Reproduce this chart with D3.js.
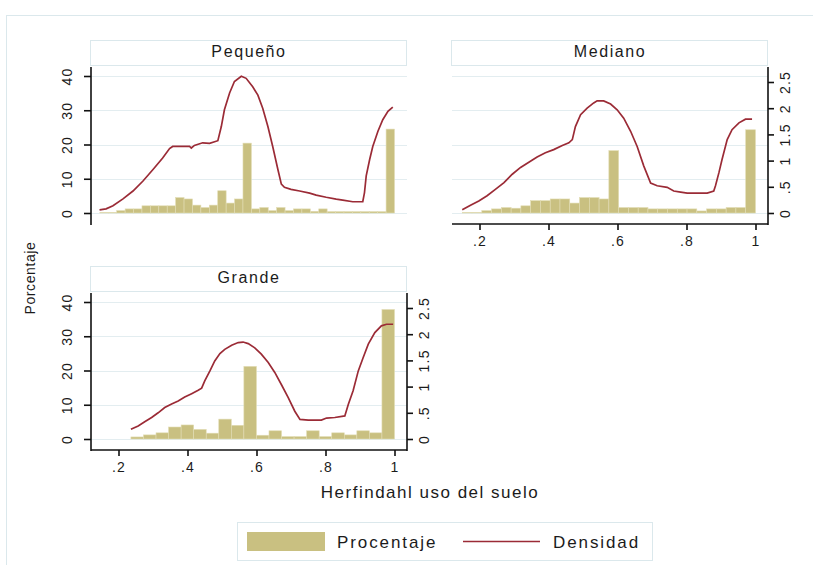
<!DOCTYPE html>
<html>
<head>
<meta charset="utf-8">
<script src="https://cdn.jsdelivr.net/npm/d3@7"></script>
<style>
  body { margin: 0; background: #fff; }
  svg { font-family: "Liberation Sans", Arial, sans-serif; }
</style>
</head>
<body>
<div id="canvas"></div>
<script>
// panel names, in drawing order
const panels = ["Pequeño", "Mediano", "Grande"];

// histogram bins (Herfindahl value of first bin edge, bin width)
const binStart = [0.146, 0.150, 0.236];
const binWidth = [0.0244, 0.02833, 0.03638];

// percentage per bin
const pctPequeno = [0.2, 0.2, 0.7, 1.2, 1.2, 2.1, 2.1, 2.1, 2.1, 4.5, 4.1, 2.3, 1.6, 2.3, 6.5, 2.9, 4.1, 20.4,
  1.2, 1.6, 0.7, 1.6, 0.7, 1.2, 1.2, 0.5, 1.2, 0.4, 0.4, 0.4, 0.4, 0.4, 0.4, 0.4, 24.5];
const pctMediano = [0.2, 0.2, 0.7, 1.2, 1.6, 1.4, 2.1, 3.6, 3.6, 4.1, 4.1, 2.9, 4.5, 4.5, 4.1, 18.2,
  1.6, 1.6, 1.6, 1.2, 1.2, 1.2, 1.2, 1.2, 0.6, 1.2, 1.2, 1.6, 1.6, 24.3];
const pctGrande = [0.6, 1.2, 1.8, 3.5, 4.1, 2.8, 1.7, 5.8, 4.0, 21.2, 1.1, 2.4, 0.7, 0.7, 2.4, 0.7, 1.8, 1.2, 2.4, 1.8, 37.8];

// kernel density [herfindahl, density]
const densPequeno = [[0.145,0.06],[0.164,0.08],[0.184,0.14],[0.213,0.27],[0.242,0.42],[0.271,0.61],[0.300,0.83],
  [0.328,1.05],[0.348,1.23],[0.357,1.27],[0.385,1.27],[0.406,1.27],[0.411,1.24],[0.420,1.29],[0.444,1.34],
  [0.464,1.33],[0.488,1.38],[0.498,1.65],[0.507,1.97],[0.522,2.29],[0.536,2.51],[0.556,2.61],[0.570,2.57],
  [0.589,2.41],[0.604,2.25],[0.618,2.0],[0.633,1.65],[0.647,1.27],[0.662,0.83],[0.672,0.55],[0.681,0.49],
  [0.700,0.45],[0.725,0.42],[0.754,0.38],[0.773,0.34],[0.802,0.30],[0.831,0.265],[0.850,0.246],[0.879,0.215],
  [0.908,0.215],[0.913,0.39],[0.918,0.71],[0.928,1.02],[0.937,1.27],[0.952,1.56],[0.966,1.78],[0.981,1.94],[0.995,2.02]];
const densMediano = [[0.150,0.06],[0.174,0.15],[0.198,0.23],[0.222,0.33],[0.246,0.45],[0.271,0.58],[0.295,0.74],
  [0.319,0.87],[0.343,0.97],[0.367,1.07],[0.391,1.15],[0.415,1.21],[0.440,1.29],[0.459,1.34],[0.469,1.40],
  [0.478,1.65],[0.493,1.875],[0.512,2.0],[0.531,2.10],[0.541,2.14],[0.560,2.14],[0.580,2.08],[0.599,1.97],
  [0.618,1.81],[0.638,1.56],[0.657,1.27],[0.676,0.90],[0.696,0.57],[0.715,0.52],[0.744,0.49],[0.763,0.42],
  [0.783,0.40],[0.802,0.38],[0.860,0.38],[0.879,0.42],[0.884,0.52],[0.894,0.77],[0.903,1.02],[0.918,1.40],
  [0.932,1.59],[0.952,1.72],[0.971,1.79],[0.990,1.79]];
const densGrande = [[0.236,0.185],[0.257,0.25],[0.276,0.33],[0.296,0.41],[0.315,0.50],[0.334,0.60],[0.354,0.67],
  [0.373,0.725],[0.392,0.80],[0.412,0.865],[0.431,0.93],[0.441,0.97],[0.450,1.11],[0.465,1.30],[0.479,1.49],
  [0.494,1.63],[0.508,1.71],[0.528,1.79],[0.547,1.84],[0.561,1.85],[0.576,1.82],[0.595,1.74],[0.614,1.62],
  [0.634,1.46],[0.653,1.27],[0.672,1.04],[0.692,0.79],[0.711,0.53],[0.726,0.375],[0.750,0.36],[0.788,0.36],
  [0.803,0.40],[0.827,0.41],[0.856,0.44],[0.866,0.66],[0.880,0.92],[0.895,1.30],[0.909,1.55],[0.924,1.81],
  [0.943,2.03],[0.962,2.16],[0.977,2.19],[0.996,2.19]];

// axis ticks
const xTicks = [0.2, 0.4, 0.6, 0.8, 1];
const pctTicks = [0, 10, 20, 30, 40];
const densTicks = [0, 0.5, 1, 1.5, 2, 2.5];

const pcts = [pctPequeno, pctMediano, pctGrande];
const dens = [densPequeno, densMediano, densGrande];

const barColor = "#c9c081";
const lineColor = "#9b2b36";
const gridColor = "#e3edf0";
const boxColor = "#dbe8ec";

const width = 813, height = 565;
const pw = 316, ph = 157;
// left/top of each plot region
const layout = [
  { left: 91, top: 67, leftAxis: true, rightAxis: false, xAxis: false },
  { left: 452, top: 67, leftAxis: false, rightAxis: true, xAxis: true },
  { left: 91, top: 293, leftAxis: true, rightAxis: true, xAxis: true },
];

const svg = d3.select("#canvas").append("svg")
  .attr("width", width)
  .attr("height", height);

// outer frame
svg.append("rect")
  .attr("x", 6.5).attr("y", 15.5)
  .attr("width", 900).attr("height", 700)
  .attr("fill", "none").attr("stroke", boxColor);

const fmt = (d) => (d > 0 && d < 1 ? String(d).replace("0.", ".") : String(d));

panels.forEach((name, i) => {
  const p = layout[i];
  const L = p.left, T = p.top, B = T + ph;

  const x = d3.scaleLinear().domain([0.2, 1]).range([L + 27.5, L + 303.5]);
  const yPct = d3.scaleLinear().domain([0, 40]).range([B - 11, T + 9]);
  const yDen = d3.scaleLinear().domain([0, 2.5]).range([B - 11, T + 15]);

  const g = svg.append("g");

  // strip title
  g.append("rect")
    .attr("x", L - 0.5).attr("y", T - 26.5)
    .attr("width", pw).attr("height", 25)
    .attr("fill", "#fff").attr("stroke", boxColor);
  g.append("text")
    .attr("x", L + pw / 2).attr("y", T - 10)
    .attr("text-anchor", "middle")
    .style("font-size", "16px").style("letter-spacing", "1.6px")
    .attr("fill", "#1b1b1b")
    .text(name);

  // gridlines
  g.selectAll(".grid").data(pctTicks).enter().append("line")
    .attr("x1", L).attr("x2", L + pw)
    .attr("y1", (d) => Math.round(yPct(d)) + 0.5)
    .attr("y2", (d) => Math.round(yPct(d)) + 0.5)
    .attr("stroke", gridColor).attr("stroke-width", 1.2);

  // bars
  const w = binWidth[i];
  g.selectAll(".bar").data(pcts[i]).enter().append("rect")
    .attr("x", (d, j) => x(binStart[i] + j * w))
    .attr("width", (d, j) => x(binStart[i] + (j + 1) * w) - x(binStart[i] + j * w))
    .attr("y", (d) => yPct(d))
    .attr("height", (d) => yPct(0) - yPct(d))
    .attr("fill", barColor)
    .attr("stroke", "#e2dcb4").attr("stroke-width", 0.6);

  // density
  const line = d3.line().x((d) => x(d[0])).y((d) => yDen(d[1]));
  g.append("path")
    .datum(dens[i])
    .attr("d", line)
    .attr("fill", "none")
    .attr("stroke", lineColor)
    .attr("stroke-width", 1.7);

  if (p.leftAxis) {
    const ax = g.append("g")
      .attr("transform", `translate(${L},0)`)
      .call(d3.axisLeft(yPct).tickValues(pctTicks).tickSize(7).tickFormat(fmt));
    ax.select(".domain").remove();
    ax.append("line").attr("y1", T).attr("y2", B + 1).attr("stroke", "#111").attr("stroke-width", 1.6);
    ax.selectAll("line").attr("stroke", "#111").attr("stroke-width", 1.6);
    ax.selectAll("text")
      .attr("x", 0).attr("dy", 0)
      .attr("transform", "translate(-19,0) rotate(-90)")
      .attr("text-anchor", "middle")
      .attr("fill", "#1b1b1b")
      .style("font-size", "14px").style("letter-spacing", "1.2px")
      .style("font-family", "'Liberation Sans', Arial, sans-serif");
  }

  if (p.rightAxis) {
    const ax = g.append("g")
      .attr("transform", `translate(${L + pw},0)`)
      .call(d3.axisRight(yDen).tickValues(densTicks).tickSize(6).tickFormat(fmt));
    ax.select(".domain").remove();
    ax.append("line").attr("y1", T).attr("y2", B + 1).attr("stroke", "#111").attr("stroke-width", 1.6);
    ax.selectAll("line").attr("stroke", "#111").attr("stroke-width", 1.6);
    ax.selectAll("text")
      .attr("x", 0).attr("dy", 0)
      .attr("transform", "translate(22,0) rotate(-90)")
      .attr("text-anchor", "middle")
      .attr("fill", "#1b1b1b")
      .style("font-size", "14px").style("letter-spacing", "1.2px")
      .style("font-family", "'Liberation Sans', Arial, sans-serif");
  }

  if (p.xAxis) {
    const ax = g.append("g")
      .attr("transform", `translate(0,${B})`)
      .call(d3.axisBottom(x).tickValues(xTicks).tickSize(6).tickFormat(fmt));
    ax.select(".domain").remove();
    ax.append("line").attr("x1", L).attr("x2", L + pw).attr("stroke", "#111").attr("stroke-width", 1.6);
    ax.selectAll("line").attr("stroke", "#111").attr("stroke-width", 1.6);
    ax.selectAll("text")
      .attr("y", 12).attr("dy", "0.71em")
      .attr("fill", "#1b1b1b")
      .style("font-size", "14px").style("letter-spacing", "1.2px")
      .style("font-family", "'Liberation Sans', Arial, sans-serif");
  }
});

// axis titles
svg.append("text")
  .attr("transform", "translate(35,278) rotate(-90)")
  .attr("text-anchor", "middle")
  .style("font-size", "14px").style("letter-spacing", "0.6px")
  .attr("fill", "#1b1b1b")
  .text("Porcentaje");

svg.append("text")
  .attr("x", 430).attr("y", 498)
  .attr("text-anchor", "middle")
  .style("font-size", "17px").style("letter-spacing", "1.5px")
  .attr("fill", "#1b1b1b")
  .text("Herfindahl uso del suelo");

// legend
const lg = svg.append("g");
lg.append("rect")
  .attr("x", 237.5).attr("y", 522.5).attr("width", 415).attr("height", 38)
  .attr("fill", "#fff").attr("stroke", boxColor);
lg.append("rect")
  .attr("x", 247).attr("y", 532).attr("width", 78).attr("height", 19)
  .attr("fill", barColor);
lg.append("text")
  .attr("x", 337).attr("y", 548)
  .style("font-size", "17px").style("letter-spacing", "1.9px")
  .attr("fill", "#1b1b1b")
  .text("Procentaje");
lg.append("line")
  .attr("x1", 463).attr("x2", 540).attr("y1", 541.5).attr("y2", 541.5)
  .attr("stroke", lineColor).attr("stroke-width", 1.7);
lg.append("text")
  .attr("x", 553).attr("y", 548)
  .style("font-size", "17px").style("letter-spacing", "1.9px")
  .attr("fill", "#1b1b1b")
  .text("Densidad");
</script>
</body>
</html>
